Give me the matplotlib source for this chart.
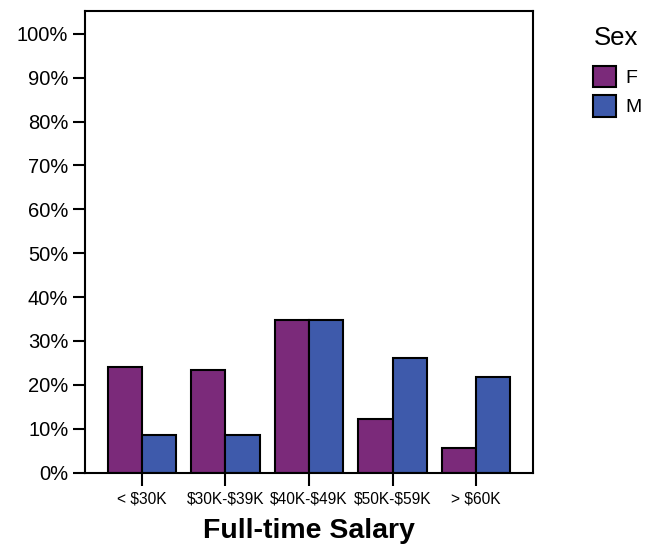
import matplotlib
matplotlib.use("Agg")
import matplotlib.pyplot as plt
import numpy as np

# Data (percent within each sex)
categories = ["< $30K", "$30K-$39K", "$40K-$49K", "$50K-$59K", "> $60K"]
female = [24.1, 23.4, 34.7, 12.1, 5.7]
male = [8.6, 8.6, 34.8, 26.0, 21.7]
yticks = [0, 10, 20, 30, 40, 50, 60, 70, 80, 90, 100]

plt.rcParams["font.family"] = ["Liberation Sans", "DejaVu Sans"]
plt.rcParams["text.parse_math"] = False

fig = plt.figure(figsize=(6.55, 5.49), dpi=100)
ax = fig.add_axes([0.1298, 0.1393, 0.684, 0.8407])

x = np.arange(len(categories))
w = 0.41
ax.bar(x - w / 2, female, width=w, color="#7b2a7a", edgecolor="black",
       linewidth=1.5, label="F")
ax.bar(x + w / 2, male, width=w, color="#3e5aab", edgecolor="black",
       linewidth=1.5, label="M")

ax.set_xlim(-0.68, len(categories) - 1 + 0.68)
ax.set_ylim(0, 105.2)
ax.set_yticks(yticks)
ax.set_yticklabels([f"{v}%" for v in yticks], fontsize=14.5)
ax.set_xticks(x)
ax.set_xticklabels(categories, fontsize=11.2)
ax.tick_params(axis="both", direction="out", length=9, width=1.5)
ax.tick_params(axis="x", pad=5)
ax.tick_params(axis="y", pad=3)

for s in ax.spines.values():
    s.set_linewidth(1.5)

ax.set_xlabel("Full-time Salary", fontsize=20.5, fontweight="bold", labelpad=8)

leg = ax.legend(title="Sex", loc="upper left", bbox_to_anchor=(0.906, 0.952),
                bbox_transform=fig.transFigure, frameon=False, fontsize=14,
                title_fontsize=18.5, handlelength=1.18, handleheight=1.33,
                handletextpad=0.45, labelspacing=0.4, borderpad=0,
                borderaxespad=0)
leg._legend_box.align = "left"
leg._legend_box.sep = 11

fig.savefig("out.png", dpi=100)
